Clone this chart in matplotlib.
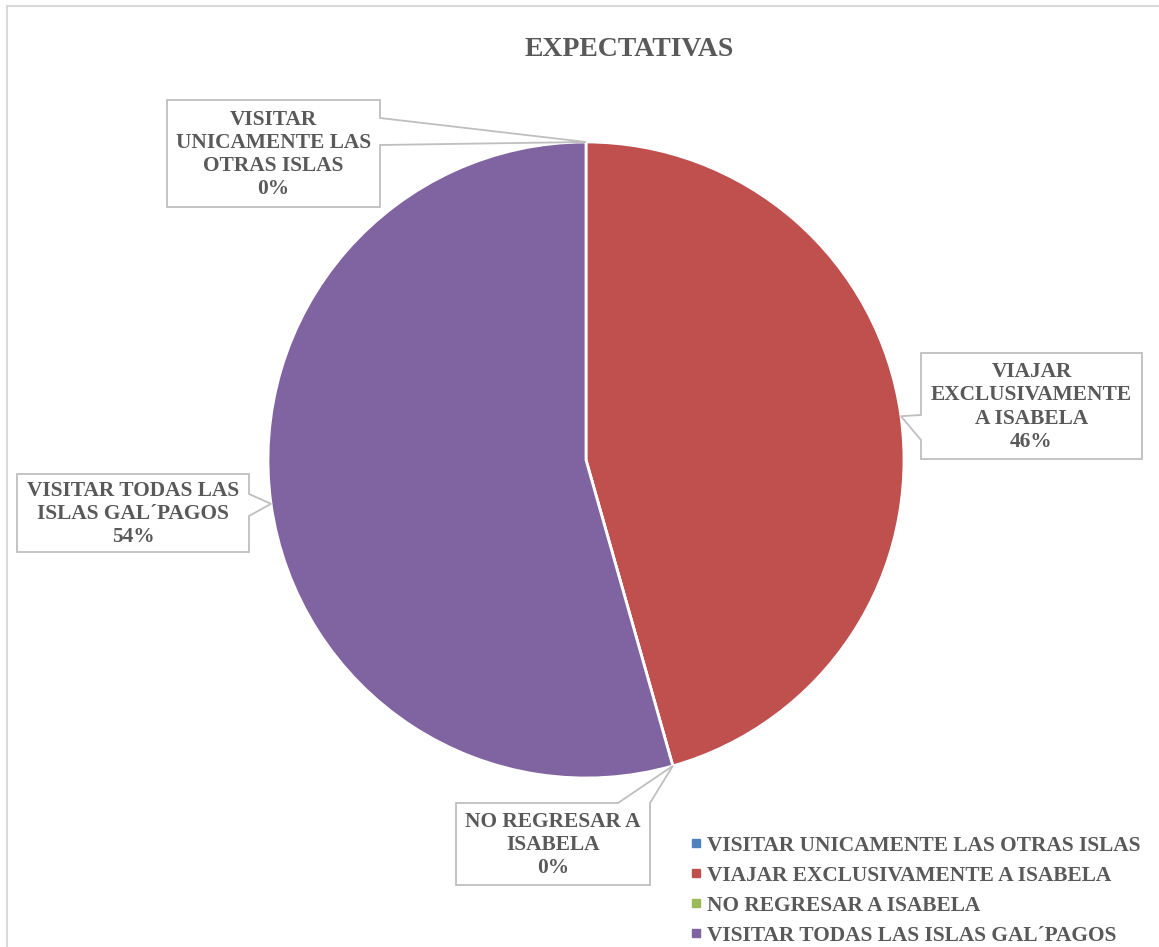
import numpy as np
import matplotlib.pyplot as plt
from matplotlib.patches import Polygon, Rectangle
from matplotlib.lines import Line2D

plt.rcParams['font.family'] = ['Liberation Serif', 'DejaVu Serif']
plt.rcParams['font.weight'] = 'bold'

categories = ['VISITAR UNICAMENTE LAS OTRAS ISLAS',
              'VIAJAR EXCLUSIVAMENTE A ISABELA',
              'NO REGRESAR A ISABELA',
              'VISITAR TODAS LAS ISLAS GAL\u00b4PAGOS']
values = [0, 45.6, 0, 54.4]
label_lines = ['VISITAR\nUNICAMENTE LAS\nOTRAS ISLAS',
               'VIAJAR\nEXCLUSIVAMENTE\nA ISABELA',
               'NO REGRESAR A\nISABELA',
               'VISITAR TODAS LAS\nISLAS GAL\u00b4PAGOS']
colors = ['#4F81BD', '#C0504D', '#9BBB59', '#8064A2']
text_color = '#595959'
box_color = '#BFBFBF'

W, H = 1159, 947
fig = plt.figure(figsize=(W / 100, H / 100), dpi=100)


def fx(x):
    return x / W


def fy(y):
    return 1 - y / H


# chart border
fig.add_artist(Rectangle((fx(7), fy(H + 5)), 1.2, fy(6) - fy(H + 5),
                         transform=fig.transFigure, fill=False,
                         edgecolor='#D9D9D9', lw=1.5))

cx, cy, r = 586, 460, 318
ax = fig.add_axes([fx(cx - r), fy(cy + r), 2 * r / W, 2 * r / H])
wedges, _ = ax.pie(values, colors=colors, startangle=90, counterclock=False,
                   radius=1, wedgeprops=dict(edgecolor='white', linewidth=2))
ax.set_xlim(-1, 1)
ax.set_ylim(-1, 1)
ax.set_aspect('equal')
ax.axis('off')

fig.text(fx(629), fy(49), 'EXPECTATIVAS', ha='center', va='center',
         fontsize=20, color=text_color, fontweight='bold')

# callout boxes: (x0, y0, x1, y1), side of pointer, pointer base span
boxes = [
    ((167, 100, 380, 207), 'right', (118, 145)),
    ((921, 353, 1142, 459), 'left', (415, 440)),
    ((456, 803, 650, 885), 'top', (618, 650)),
    ((17, 474, 249, 552), 'right', (494, 516)),
]

fig.canvas.draw()
for w, v, txt, (box, side, base) in zip(wedges, values, label_lines, boxes):
    mid = np.radians((w.theta1 + w.theta2) / 2)
    tx, ty = ax.transData.transform((np.cos(mid), np.sin(mid)))
    tip = (tx / W, ty / H)
    x0, y0, x1, y1 = box
    if side == 'right':
        pts = [(x0, y0), (x1, y0), (x1, base[0]), None, (x1, base[1]), (x1, y1), (x0, y1)]
    elif side == 'left':
        pts = [(x0, y0), (x1, y0), (x1, y1), (x0, y1), (x0, base[1]), None, (x0, base[0])]
    else:
        pts = [(x0, y0), (base[0], y0), None, (x1, y0), (x1, y1), (x0, y1)]
    verts = [tip if p is None else (fx(p[0]), fy(p[1])) for p in pts]
    fig.add_artist(Polygon(verts, closed=True, transform=fig.transFigure,
                           facecolor='white', edgecolor=box_color, lw=1.3))
    fig.text(fx((x0 + x1) / 2), fy((y0 + y1) / 2 + 1), f'{txt}\n{round(v):.0f}%',
             ha='center', va='center', fontsize=15.4, color=text_color,
             fontweight='bold', linespacing=1.22)

handles = [Line2D([], [], ls='none', marker='s', markersize=5.5,
                  markerfacecolor=c, markeredgecolor=c) for c in colors]
leg = fig.legend(handles, categories, loc='upper left',
                 bbox_to_anchor=(fx(683), fy(827)), frameon=False,
                 fontsize=15.4, handlelength=0.4, handletextpad=0.3,
                 labelspacing=0.47, borderaxespad=0)
for t in leg.get_texts():
    t.set_color(text_color)

fig.savefig('out.png', dpi=100)
